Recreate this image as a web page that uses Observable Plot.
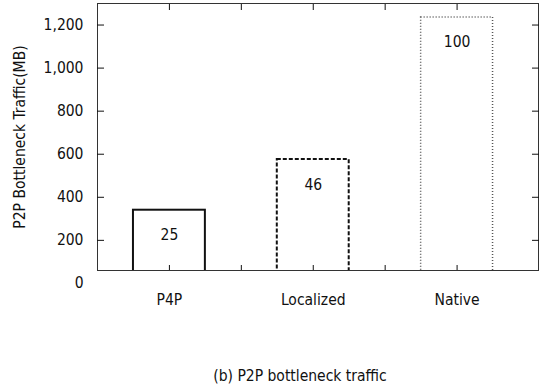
<!DOCTYPE html>
<html>
<head>
<meta charset="utf-8">
<script src="https://cdn.jsdelivr.net/npm/d3@7"></script>
<script src="https://cdn.jsdelivr.net/npm/@observablehq/plot@0.6"></script>
<style>
  body { margin: 0; background: #fff; }
  #chart { width: 539px; }
  .cap { width: 539px; text-align: center; font-family: "DejaVu Sans Condensed", "DejaVu Sans", sans-serif; font-stretch: condensed; font-size: 15.5px; color: #111; margin-top: 27px; padding-left: 61px; box-sizing: border-box; }
</style>
</head>
<body>
<div id="chart"></div>
<div class="cap">(b) P2P bottleneck traffic</div>
<script>
const categories = ["P4P", "Localized", "Native"];
const traffic = [340, 575, 1235];          // MB
const percent = ["25", "46", "100"];
const yTicks = [0, 200, 400, 600, 800, 1000, 1200];
const styles = ["solid", "dashed", "dotted"];

const data = categories.map((c, k) => ({cat: c, pos: k + 1, value: traffic[k], pct: percent[k], style: styles[k]}));
const font = "'DejaVu Sans Condensed', 'DejaVu Sans', sans-serif";
const fs = 15.5;
const half = 0.25;

const bar = (style, opts) => Plot.rectY(data.filter(d => d.style === style), {
  x1: d => d.pos - half, x2: d => d.pos + half, y1: 0, y2: "value",
  fill: "white", clip: true, ...opts
});

const chart = Plot.plot({
  width: 539, height: 340,
  marginLeft: 97, marginRight: 1, marginTop: 3, marginBottom: 70,
  style: {fontFamily: font, fontSize: fs + "px", fontStretch: "condensed", color: "#111", background: "white"},
  x: {type: "linear", domain: [0.5, 3.566], axis: null},
  y: {domain: [60, 1300], axis: null},
  marks: [
    bar("solid", {stroke: "#111", strokeWidth: 2}),
    bar("dashed", {stroke: "#111", strokeWidth: 2, strokeDasharray: "4,2"}),
    bar("dotted", {stroke: "#555", strokeWidth: 1.5, strokeDasharray: "1,2"}),
    Plot.text(data, {x: "pos", y: "value", dy: 25, text: "pct", fontSize: fs, fill: "#111"}),
    Plot.frame({stroke: "#333", strokeWidth: 1}),
    Plot.axisY({anchor: "left", ticks: yTicks, tickSize: 0, tickPadding: 14, tickFormat: d3.format(","), fontSize: fs,
      label: "P2P Bottleneck Traffic(MB)", labelAnchor: "center", labelOffset: 84, labelArrow: "none"}),
    Plot.axisY({anchor: "left", ticks: yTicks.slice(1), tickSize: -7, text: null, label: null}),
    Plot.axisY({anchor: "right", ticks: yTicks.slice(1), tickSize: -7, text: null, label: null}),
    Plot.axisX({anchor: "bottom", ticks: [1, 1.5, 2, 2.5, 3], tickSize: -5, text: null, label: null}),
    Plot.axisX({anchor: "top", ticks: [1, 1.5, 2, 2.5, 3], tickSize: -6, text: null, label: null}),
    Plot.axisX({anchor: "bottom", ticks: [1, 2, 3], tickSize: 0, tickPadding: 23, tickFormat: d => categories[d - 1], fontSize: fs, label: null})
  ]
});
document.getElementById("chart").append(chart);
</script>
</body>
</html>
